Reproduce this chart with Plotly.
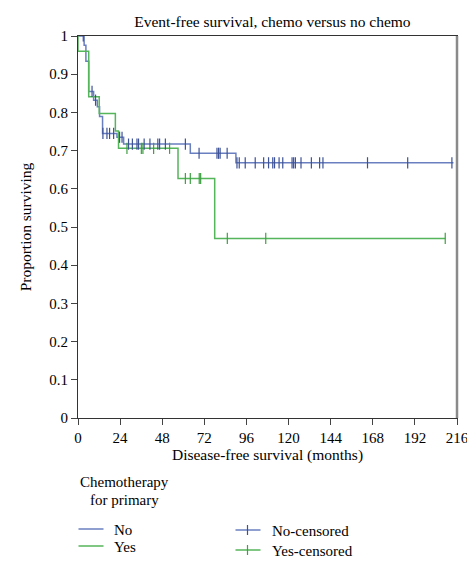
import plotly.graph_objects as go

# Kaplan-Meier step data (months, proportion surviving)
no_times = [0, 3.5, 4.5, 6.1, 8.9, 11.0, 12.3, 14.0, 22.2, 26.0, 64.0, 90.0, 214.0]
no_surv = [1.0, 0.976, 0.934, 0.855, 0.832, 0.815, 0.789, 0.745, 0.735, 0.717, 0.693, 0.668, 0.668]

yes_times = [0, 0, 6.1, 12.1, 21.3, 23.1, 57.0, 77.9, 209.3]
yes_surv = [1.0, 0.96, 0.841, 0.797, 0.751, 0.706, 0.627, 0.47, 0.47]

no_cens_t = [3.0, 8.0, 10.0, 14.2, 16.5, 18.0, 20.3, 23.7, 25.1,
             28.8, 31.0, 33.6, 34.5, 37.7, 41.0, 45.5, 46.5, 49.8, 61.2,
             69.0, 79.2, 80.1, 81.0, 85.0,
             90.6, 91.9, 95.3, 101.0, 105.8, 108.6, 111.0, 112.0, 114.6, 116.7,
             122.0, 122.9, 123.9, 127.1, 133.0, 137.7, 139.6, 165.0, 187.9, 213.1]
no_cens_s = [1.0, 0.855, 0.832, 0.745, 0.745, 0.745, 0.745, 0.735, 0.735,
             0.717, 0.717, 0.717, 0.717, 0.717, 0.717, 0.717, 0.717, 0.717, 0.717,
             0.693, 0.693, 0.693, 0.693, 0.693,
             0.668, 0.668, 0.668, 0.668, 0.668, 0.668, 0.668, 0.668, 0.668, 0.668,
             0.668, 0.668, 0.668, 0.668, 0.668, 0.668, 0.668, 0.668, 0.668, 0.668]

yes_cens_t = [27.9, 36.1, 37.0, 43.1, 52.2, 61.2, 64.0, 69.1, 69.9, 85.1, 107.0, 209.3]
yes_cens_s = [0.706, 0.706, 0.706, 0.706, 0.706, 0.627, 0.627, 0.627, 0.627, 0.47, 0.47, 0.47]

x_ticks = list(range(0, 217, 24))
y_ticks = [round(i * 0.1, 1) for i in range(11)]
y_labels = ["0"] + [f"{v:.1f}" for v in y_ticks[1:-1]] + ["1"]

legend_title = "Chemotherapy"
legend_title2 = "for primary"
legend_names = ["No", "Yes"]
legend_cens_names = ["No-censored", "Yes-censored"]

BLUE = "#6a7fbf"
BLUE_D = "#3d5296"
GREEN = "#55b55a"
GREEN_D = "#3ea043"
FONT = "Liberation Serif"

fig = go.Figure()
fig.add_trace(go.Scatter(x=no_times, y=no_surv, mode="lines", line_shape="hv",
                         line=dict(color=BLUE, width=1.5), name="No", showlegend=False))
fig.add_trace(go.Scatter(x=yes_times, y=yes_surv, mode="lines", line_shape="hv",
                         line=dict(color=GREEN, width=1.5), name="Yes", showlegend=False))
fig.add_trace(go.Scatter(x=no_cens_t, y=no_cens_s, mode="markers", name="No-censored", showlegend=False,
                         marker=dict(symbol="line-ns", size=8, line=dict(color=BLUE_D, width=1.2))))
fig.add_trace(go.Scatter(x=yes_cens_t, y=yes_cens_s, mode="markers", name="Yes-censored", showlegend=False,
                         marker=dict(symbol="line-ns", size=8, line=dict(color=GREEN_D, width=1.2))))

# right frame edge (grey, heavier)
fig.add_shape(type="line", xref="paper", yref="paper", x0=1, x1=1, y0=0, y1=1,
              line=dict(color="#8a8a8a", width=2.5))

# ---- custom legend (paper coordinates) ----
PH = 382.0  # plot height in px
PW = 379.0  # plot width in px
def py(px_below):  # px below the x-axis -> paper y
    return -px_below / PH
def pxx(px_right):  # px right of y-axis -> paper x
    return px_right / PW

fig.add_annotation(text=legend_title, xref="paper", yref="paper", x=pxx(0), y=py(64),
                   xanchor="left", yanchor="middle", showarrow=False, font=dict(size=15))
fig.add_annotation(text=legend_title2, xref="paper", yref="paper", x=pxx(10), y=py(82),
                   xanchor="left", yanchor="middle", showarrow=False, font=dict(size=15))

line_rows = [111, 128]
for name, col, row in zip(legend_names, [BLUE, GREEN], line_rows):
    fig.add_shape(type="line", xref="paper", yref="paper", x0=pxx(0.5), x1=pxx(25.5),
                  y0=py(row), y1=py(row), line=dict(color=col, width=1.5))
    fig.add_annotation(text=name, xref="paper", yref="paper", x=pxx(34), y=py(row + 1),
                       xanchor="left", yanchor="middle", showarrow=False, font=dict(size=15))

cens_rows = [112, 132]
for name, col, dcol, row in zip(legend_cens_names, [BLUE, GREEN], [BLUE_D, GREEN_D], cens_rows):
    fig.add_shape(type="line", xref="paper", yref="paper", x0=pxx(157.5), x1=pxx(182.5),
                  y0=py(row), y1=py(row), line=dict(color=col, width=1.5))
    fig.add_shape(type="line", xref="paper", yref="paper", x0=pxx(169.5), x1=pxx(169.5),
                  y0=py(row - 5), y1=py(row + 5), line=dict(color=dcol, width=1.2))
    fig.add_annotation(text=name, xref="paper", yref="paper", x=pxx(192), y=py(row + 1),
                       xanchor="left", yanchor="middle", showarrow=False, font=dict(size=15))

fig.update_layout(
    width=467, height=563,
    margin=dict(l=70, r=18, t=28, b=153, autoexpand=False),
    paper_bgcolor="white", plot_bgcolor="white",
    showlegend=False,
    font=dict(family=FONT, size=15, color="black"),
    title=dict(text="Event-free survival, chemo versus no chemo", xref="paper", x=0.513,
               xanchor="center", y=1 - 14 / 563, yanchor="middle", font=dict(size=15.5)),
    xaxis=dict(range=[0, 216], tickvals=x_ticks, ticks="outside", ticklen=6,
               showline=True, linecolor="#333", linewidth=1, mirror=True,
               showgrid=False, zeroline=False, tickfont=dict(size=15),
               title=dict(text="Disease-free survival (months)", standoff=4, font=dict(size=15.5))),
    yaxis=dict(range=[0, 1], tickvals=y_ticks, ticktext=y_labels, ticks="outside", ticklen=6,
               showline=True, linecolor="#333", linewidth=1, mirror=True,
               showgrid=False, zeroline=False, tickfont=dict(size=15),
               title=dict(text="Proportion surviving", standoff=13, font=dict(size=15.5))),
)

fig.write_html("out.html")
